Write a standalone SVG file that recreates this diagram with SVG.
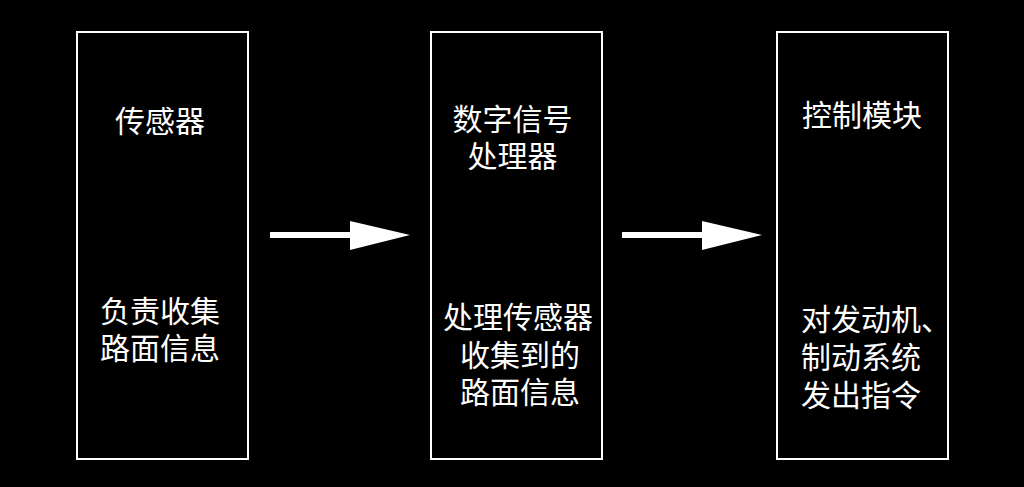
<svg xmlns="http://www.w3.org/2000/svg" width="1024" height="487" viewBox="0 0 1024 487">
<style>
.box{fill:#000;stroke:#fff;stroke-width:2}
.t{font-family:"Noto Sans CJK SC","Noto Sans",sans-serif;font-size:30px;fill:#fff}
.c{text-anchor:middle}
</style>
<rect x="0" y="0" width="1024" height="487" fill="#000"/>
<g id="node-sensor">
<rect class="box" x="77" y="32" width="171" height="427"/>
<text class="t c" x="160" y="132">传感器</text>
<text class="t c" x="160" y="322">负责收集<tspan x="160" dy="37">路面信息</tspan></text>
</g>
<g id="node-dsp">
<rect class="box" x="431" y="32" width="171" height="427"/>
<text class="t c" x="512.5" y="130">数字信号<tspan x="512.5" dy="37">处理器</tspan></text>
<text class="t c" x="518" y="328">处理传感器<tspan x="520" dy="38">收集到的</tspan><tspan x="520" dy="37">路面信息</tspan></text>
</g>
<g id="node-control">
<rect class="box" x="777" y="32" width="171" height="427"/>
<text class="t" x="802" y="126">控制模块</text>
<text class="t" x="801" y="330">对发动机、<tspan x="801" dy="38">制动系统</tspan><tspan x="801" dy="38">发出指令</tspan></text>
</g>
<g id="connectors" fill="#fff">
<rect x="270" y="232" width="82" height="6"/>
<polygon points="350,221 410,235 350,250"/>
<rect x="622" y="232" width="82" height="6"/>
<polygon points="702,221 762,235 702,250"/>
</g>
</svg>
